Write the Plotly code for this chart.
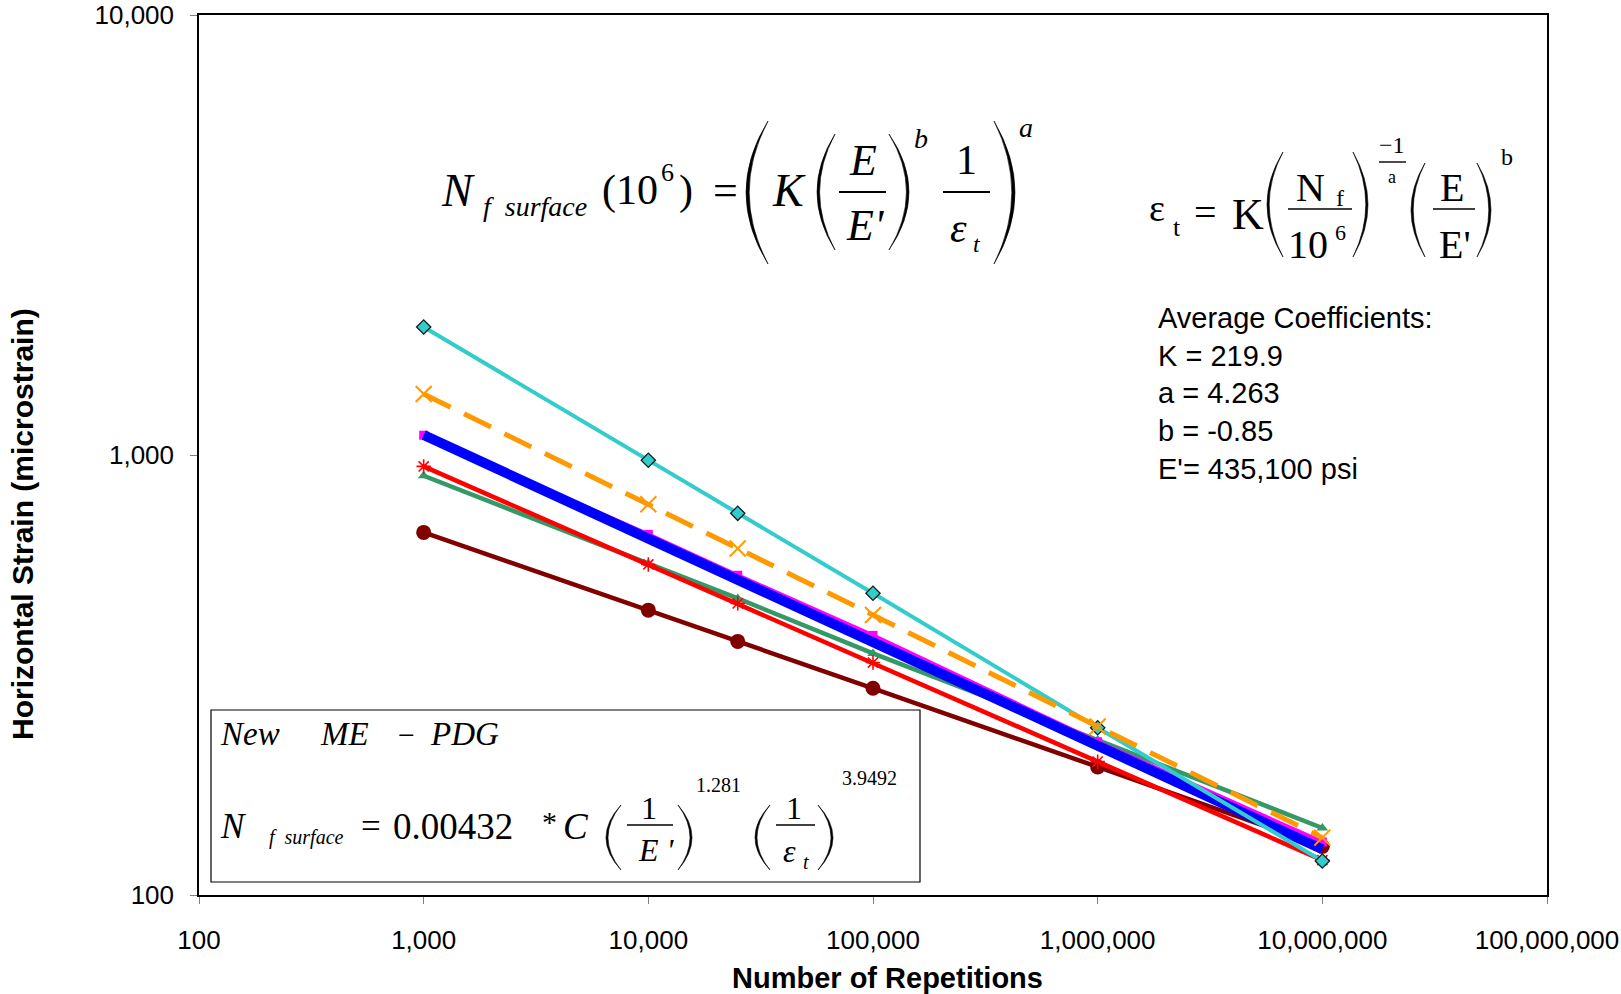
import plotly.graph_objects as go

# ---------------- data ----------------
reps = [1000, 10000, 25000, 100000, 1000000, 10000000]
cyan_vals = [1954, 973, 737, 485, 240, 119.5]
orange_vals = [1376, 773, 613, 433, 241.5, 135]
magenta_vals = [1109, 660, 533, 389, 223, 132]
blue_vals = [1110, 645, 516, 373, 218, 127]
red_vals = [942, 564, 460, 337.5, 201, 120]
green_vals = [897, 566, 472, 354, 225, 142]
maroon_vals = [667, 444, 377, 295, 195.5, 129]

x_tickvals = [100, 1000, 10000, 100000, 1000000, 10000000, 100000000]
x_ticktext = ["100", "1,000", "10,000", "100,000", "1,000,000", "10,000,000", "100,000,000"]
y_tickvals = [100, 1000, 10000]
y_ticktext = ["100", "1,000", "10,000"]

coef_lines = ["Average Coefficients:", "K = 219.9", "a = 4.263", "b = -0.85", "E'= 435,100 psi"]

# ---------------- layout geometry ----------------
W, H = 1621, 994
L, R, T, B = 199, 1547, 15, 895
SANS = "Liberation Sans, Arial, sans-serif"
SERIF = "Liberation Serif, Times New Roman, serif"


def px(x):
    return (x - L) / (R - L)


def py(y):
    return (B - y) / (B - T)


fig = go.Figure()

series = [
    (maroon_vals, "#800000", 4.5, None, dict(symbol="circle", size=15, color="#800000")),
    (green_vals, "#339966", 4.5, None, dict(symbol="triangle-up", size=10, color="#339966")),
    (magenta_vals, "#FF00FF", 4, None, dict(symbol="square", size=9, color="#FF00FF")),
    (blue_vals, "#0000FF", 10, None, None),
    (red_vals, "#FF0000", 4.5, None, dict(symbol="asterisk-open", size=12, color="#FF0000",
                                           line=dict(color="#FF0000", width=1.6))),
    (cyan_vals, "#33CCCC", 4, None, dict(symbol="diamond", size=11, color="#33CCCC",
                                          line=dict(color="#1a1a1a", width=1.3))),
    (orange_vals, "#FF9900", 5, "30px,15px", dict(symbol="x-thin-open", size=16, color="#FF9900",
                                                  line=dict(color="#FF9900", width=2))),
]
for vals, col, lw, dash, mk in series:
    fig.add_trace(go.Scatter(
        x=reps, y=vals,
        mode="lines+markers" if mk else "lines",
        line=dict(color=col, width=lw, dash=dash) if dash else dict(color=col, width=lw),
        marker=mk if mk else None,
        hoverinfo="skip",
    ))

fig.update_layout(
    width=W, height=H,
    margin=dict(l=L, r=W - R, t=T, b=H - B, pad=0, autoexpand=False),
    plot_bgcolor="white", paper_bgcolor="white",
    showlegend=False,
    xaxis=dict(type="log", range=[2, 8], tickvals=x_tickvals, ticktext=x_ticktext,
               ticks="outside", ticklen=7, tickcolor="#808080", tickwidth=1,
               showline=True, linecolor="black", linewidth=1.5, mirror=True,
               showgrid=False, zeroline=False, automargin=False,
               tickfont=dict(family=SANS, size=26, color="black"), ticklabelstandoff=14),
    yaxis=dict(type="log", range=[2, 4], tickvals=y_tickvals, ticktext=y_ticktext,
               ticks="outside", ticklen=7, tickcolor="#808080", tickwidth=1,
               showline=True, linecolor="black", linewidth=1.5, mirror=True,
               showgrid=False, zeroline=False, automargin=False,
               tickfont=dict(family=SANS, size=26, color="black"), ticklabelstandoff=11),
)

ann = []


def txt(t, x, y, size, family=SERIF, italic=False, xanchor="center", yanchor="middle", **kw):
    if italic:
        t = "<i>" + t + "</i>"
    ann.append(dict(text=t, x=px(x), y=py(y), xref="paper", yref="paper", showarrow=False,
                    xanchor=xanchor, yanchor=yanchor,
                    font=dict(family=family, size=size, color="black"), **kw))


shapes = []


def bar(x0, x1, y, w=1.8):
    shapes.append(dict(type="line", xref="paper", yref="paper", x0=px(x0), x1=px(x1),
                       y0=py(y), y1=py(y), line=dict(color="black", width=w)))


def paren(xl, xr, yt, yb, left=True, th=3.0):
    ym = (yt + yb) / 2
    if left:
        e = xr
        co = 2 * xl - xr
        ci = 2 * (xl + th) - xr
    else:
        e = xl
        co = 2 * xr - xl
        ci = 2 * (xr - th) - xl
    p = (f"M {px(e)},{py(yt)} Q {px(co)},{py(ym)} {px(e)},{py(yb)} "
         f"Q {px(ci)},{py(ym)} {px(e)},{py(yt)} Z")
    shapes.append(dict(type="path", xref="paper", yref="paper", path=p,
                       fillcolor="black", line=dict(color="black", width=0.6)))


# ---------- equation 1 (top centre) ----------
txt("N", 458, 191, 46, italic=True)
txt("f  surface", 481, 207, 28, italic=True, xanchor="left")
txt("(10", 600, 191, 42, xanchor="left")
txt("6", 667, 172, 26)
txt(")", 686, 191, 42)
txt("=", 725, 191, 44)
paren(746, 768, 121, 264, left=True, th=3.2)
txt("K", 789, 191, 46, italic=True)
paren(817, 835, 134, 250, left=True, th=2.6)
txt("E", 863, 160, 44, italic=True)
bar(839, 886, 192)
txt("E'", 865, 226, 44, italic=True)
paren(889, 909, 134, 250, left=False, th=2.6)
txt("b", 921, 138, 28, italic=True)
txt("1", 966, 160, 42)
bar(943, 990, 192)
txt("ε", 958, 228, 42, italic=True)
txt("t", 977, 244, 24, italic=True)
paren(994, 1015, 121, 264, left=False, th=3.2)
txt("a", 1026, 127, 28, italic=True)

# ---------- equation 2 (top right) ----------
txt("ε", 1157, 208, 38)
txt("t", 1177, 227, 26)
txt("=", 1205, 213, 40)
txt("K", 1248, 214, 44)
paren(1267, 1283, 152, 257, left=True, th=2.2)
txt("N", 1310, 188, 40)
txt("f", 1340, 198, 24)
bar(1288, 1352, 209, 1.6)
txt("10", 1308, 244, 40)
txt("6", 1340, 233, 22)
paren(1353, 1368, 152, 257, left=False, th=2.2)
txt("−1", 1392, 145, 24)
bar(1379, 1406, 162, 1.4)
txt("a", 1392, 177, 18)
paren(1411, 1425, 163, 257, left=True, th=2.2)
txt("E", 1452, 188, 40)
bar(1433, 1475, 209, 1.6)
txt("E'", 1455, 244, 40)
paren(1477, 1491, 163, 257, left=False, th=2.2)
txt("b", 1507, 157, 24)

# ---------- coefficients text ----------
txt("<br>".join(coef_lines), 1156, 300, 29, family=SANS, xanchor="left", yanchor="top", align="left")

# ---------- boxed equation (bottom left) ----------
shapes.append(dict(type="rect", xref="paper", yref="paper", x0=px(211), x1=px(920),
                   y0=py(710), y1=py(882), line=dict(color="black", width=1.2), fillcolor="white"))
txt("New", 218, 734, 33, italic=True, xanchor="left")
txt("ME", 318, 734, 33, italic=True, xanchor="left")
txt("−", 406, 734, 30)
txt("PDG", 428, 734, 33, italic=True, xanchor="left")
txt("N", 218, 826, 35, italic=True, xanchor="left")
txt("f  surface", 267, 837, 20, italic=True, xanchor="left")
txt("=", 371, 826, 35)
txt("0.00432", 391, 826, 37, xanchor="left")
txt("*", 549, 821, 30)
txt("C", 576, 826, 37, italic=True)
paren(606, 621, 805, 870, left=True, th=2.0)
txt("1", 649, 808, 32)
bar(627, 673, 825, 1.5)
txt("E '", 656, 850, 32, italic=True)
paren(678, 692, 805, 870, left=False, th=2.0)
txt("1.281", 718, 785, 20)
paren(755, 770, 805, 870, left=True, th=2.0)
txt("1", 794, 808, 32)
bar(776, 815, 825, 1.5)
txt("ε", 789, 851, 32, italic=True)
txt("t", 806, 862, 20, italic=True)
paren(818, 833, 805, 870, left=False, th=2.0)
txt("3.9492", 869, 778, 20)

# ---------- axis titles ----------
txt("<b>Number of Repetitions</b>", 887, 978, 29, family=SANS)
txt("<b>Horizontal Strain (microstrain)</b>", 22, 524, 30, family=SANS, textangle=-90)

fig.update_layout(annotations=ann, shapes=shapes)
fig.write_html("out.html", config={"displayModeBar": False},
               post_script="document.body.style.margin='0px';")
